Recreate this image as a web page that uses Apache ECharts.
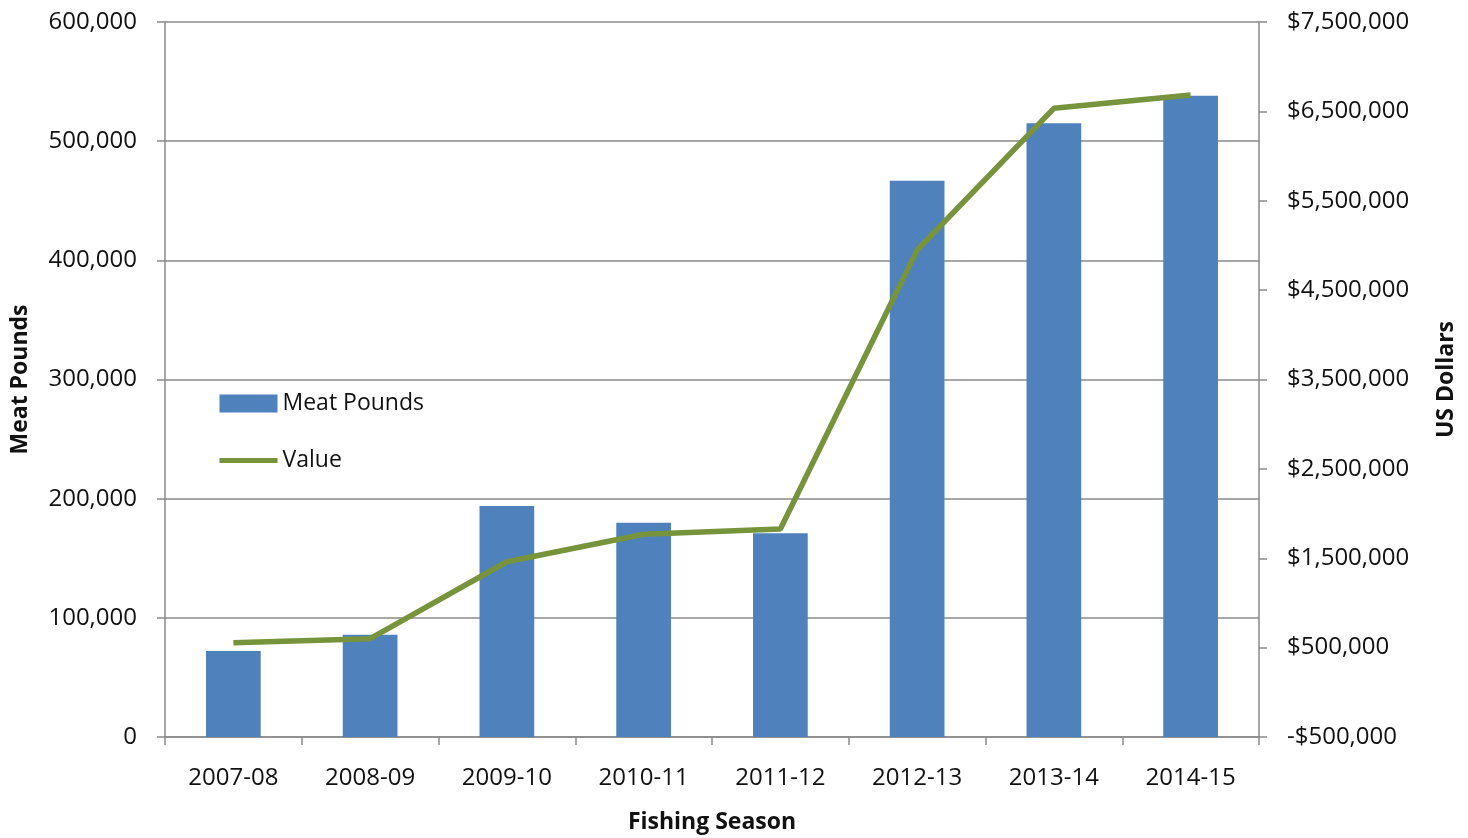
<!DOCTYPE html>
<html>
<head>
<meta charset="utf-8">
<script src="https://cdn.jsdelivr.net/npm/echarts@6/dist/echarts.min.js"></script>
<style>html,body{margin:0;padding:0;background:#fff;overflow:hidden;width:100%;height:100%}#c{position:absolute;left:0;top:0;width:100vw;height:100vh}</style>
</head>
<body>
<div id="c"></div>
<script>
const categories = ['2007-08','2008-09','2009-10','2010-11','2011-12','2012-13','2013-14','2014-15'];
const meatPounds = [72200, 85800, 193800, 179800, 170900, 466800, 515000, 538100];
const valueUSD = [555000, 600000, 1461000, 1768000, 1827000, 4949000, 6534000, 6683000];

const FONT = '"Open Sans", "Noto Sans", sans-serif';
const TXT = '#111111';
const GRAY = '#8a8a8a';

function commas(v){ return Math.abs(v).toString().replace(/\B(?=(\d{3})+(?!\d))/g, ','); }

const chart = echarts.init(document.getElementById('c'), null, {renderer:'canvas'});
chart.setOption({
  animation: false,
  backgroundColor: '#fff',
  textStyle: {fontFamily: FONT},
  grid: {left: 165, right: 209, top: 22, bottom: 101, containLabel: false, outerBoundsMode: 'none'},
  legend: {
    orient: 'vertical',
    left: 212, top: 387,
    itemGap: 34,
    itemWidth: 58, itemHeight: 18,
    textStyle: {fontFamily: FONT, fontSize: 23, color: TXT},
    data: [
      {name: 'Meat Pounds', icon: 'rect'},
      {name: 'Value', itemStyle: {opacity: 0}, lineStyle: {width: 5, color: '#77933C'}}
    ]
  },
  xAxis: {
    type: 'category',
    data: categories,
    boundaryGap: true,
    name: 'Fishing Season',
    nameLocation: 'middle',
    nameGap: 74,
    nameTextStyle: {fontFamily: FONT, fontSize: 23, fontWeight: 'bold', color: TXT},
    axisLine: {lineStyle: {color: GRAY, width: 1.5}},
    axisTick: {show: true, alignWithLabel: false, length: 8, lineStyle: {color: GRAY, width: 1.5}},
    axisLabel: {fontFamily: FONT, fontSize: 24, color: TXT, margin: 29},
    splitLine: {show: false}
  },
  yAxis: [
    {
      type: 'value',
      min: 0, max: 600000, interval: 100000,
      position: 'left',
      name: 'Meat Pounds',
      nameLocation: 'middle',
      nameGap: 133,
      nameRotate: 90,
      nameTextStyle: {fontFamily: FONT, fontSize: 23, fontWeight: 'bold', color: TXT},
      axisLine: {show: true, lineStyle: {color: GRAY, width: 1.5}},
      axisTick: {show: true, length: 8, lineStyle: {color: GRAY, width: 1.5}},
      axisLabel: {fontFamily: FONT, fontSize: 24, color: TXT, margin: 28, formatter: v => commas(v)},
      splitLine: {show: true, lineStyle: {color: GRAY, width: 1.5}}
    },
    {
      type: 'value',
      min: -500000, max: 7500000, interval: 1000000,
      position: 'right',
      name: 'US Dollars',
      nameLocation: 'middle',
      nameGap: 176,
      nameRotate: 90,
      nameTextStyle: {fontFamily: FONT, fontSize: 23, fontWeight: 'bold', color: TXT},
      axisLine: {show: true, lineStyle: {color: GRAY, width: 1.5}},
      axisTick: {show: true, length: 8, lineStyle: {color: GRAY, width: 1.5}},
      axisLabel: {fontFamily: FONT, fontSize: 24, color: TXT, margin: 28,
        formatter: v => (v < 0 ? '-$' : '$') + commas(v)},
      splitLine: {show: false}
    }
  ],
  series: [
    {
      name: 'Meat Pounds',
      type: 'bar',
      yAxisIndex: 0,
      data: meatPounds,
      barWidth: '40%',
      itemStyle: {color: '#4F81BD'}
    },
    {
      name: 'Value',
      type: 'line',
      yAxisIndex: 1,
      data: valueUSD,
      symbol: 'none',
      lineStyle: {color: '#77933C', width: 5.5},
      itemStyle: {color: '#77933C'}
    }
  ]
});
</script>
</body>
</html>
